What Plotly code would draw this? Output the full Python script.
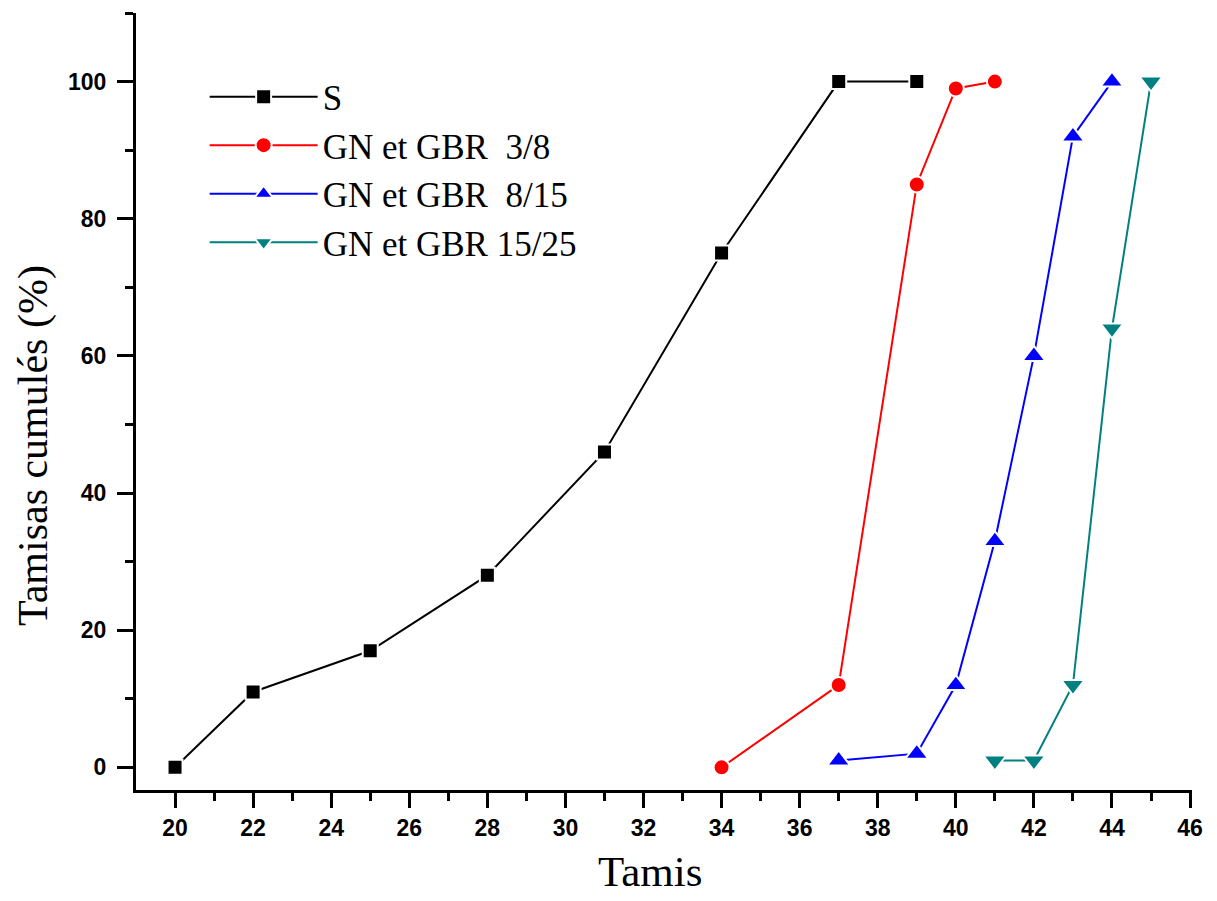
import plotly.graph_objects as go

# Data
s_x = [20, 22, 25, 28, 31, 34, 37, 39]
s_y = [0, 11, 17, 28, 46, 75, 100, 100]
r_x = [34, 37, 39, 40, 41]
r_y = [0, 12, 85, 99, 100]
b_x = [37, 39, 40, 41, 42, 43, 44]
b_y = [1, 2, 12, 33, 60, 92, 100]
t_x = [41, 42, 43, 44, 45]
t_y = [1, 1, 12, 64, 100]

names = ["S", "GN et GBR  3/8", "GN et GBR  8/15", "GN et GBR 15/25"]
colors = ["#000000", "#FF0000", "#0000FF", "#008080"]
symbols = ["square", "circle", "triangle-up", "triangle-down"]
sizes = [15, 16, 20, 20]

fig = go.Figure()
for xs, ys, nm, c, sym, sz in zip([s_x, r_x, b_x, t_x], [s_y, r_y, b_y, t_y],
                                  names, colors, symbols, sizes):
    fig.add_trace(go.Scatter(
        x=xs, y=ys, name=nm, mode="lines+markers",
        line=dict(color=c, width=2),
        marker=dict(symbol=sym, size=sz, color=c, line=dict(color="white", width=2)),
    ))

axis_common = dict(
    showline=True, linecolor="black", linewidth=3,
    ticks="outside", tickwidth=3, tickcolor="black",
    showgrid=False, zeroline=False, mirror=False,
    tickfont=dict(family="Liberation Sans, Arial", size=23, color="black", weight="bold"),
)

fig.update_xaxes(
    range=[19, 46.05], tickmode="array", tickvals=list(range(20, 47, 2)),
    ticklen=15,
    minor=dict(ticks="outside", ticklen=8, tickwidth=3, tickcolor="black",
               tickvals=list(range(21, 47, 2))),
    **axis_common,
)
fig.update_yaxes(
    range=[-3.3, 110], tickmode="array", tickvals=list(range(0, 101, 20)),
    ticklen=16, ticklabelstandoff=6,
    minor=dict(ticks="outside", ticklen=8, tickwidth=3, tickcolor="black",
               tickvals=list(range(10, 111, 20))),
    **axis_common,
)

title_font = dict(family="Liberation Serif, Times New Roman", size=43, color="black")
fig.add_annotation(text="Tamis", xref="paper", yref="paper", x=0.4867, y=-0.1045,
                   xanchor="center", yanchor="middle", showarrow=False, font=title_font)
fig.add_annotation(text="Tamisas cumulés (%)", xref="paper", yref="paper", x=-0.0975, y=0.4427,
                   xanchor="center", yanchor="middle", textangle=-90, showarrow=False,
                   font=dict(family="Liberation Serif, Times New Roman", size=42, color="black"))

fig.update_layout(
    width=1217, height=901,
    margin=dict(l=136, r=25, t=13, b=111),
    plot_bgcolor="white", paper_bgcolor="white",
    showlegend=True,
    legend=dict(x=0.065, y=0.93, xanchor="left", yanchor="top",
                font=dict(family="Liberation Serif, Times New Roman", size=35, color="black"),
                bgcolor="rgba(0,0,0,0)", itemwidth=108, tracegroupgap=0),
)

fig.write_html("out.html")
